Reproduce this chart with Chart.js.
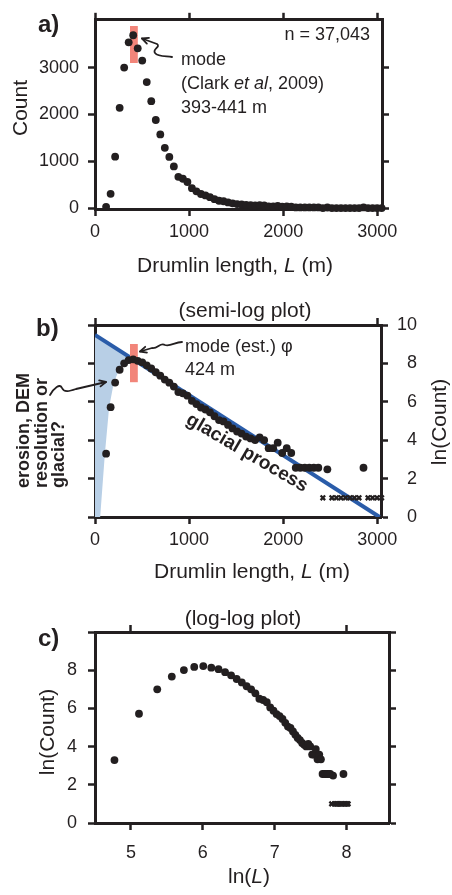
<!DOCTYPE html>
<html>
<head>
<meta charset="utf-8">
<script src="https://cdn.jsdelivr.net/npm/chart.js@4.4.1/dist/chart.umd.min.js"></script>
<style>
  html, body { margin: 0; padding: 0; background: #fff; }
  #page { position: relative; width: 452px; height: 895px; overflow: hidden; background: #fff; }
  canvas { position: absolute; left: 0; }
</style>
</head>
<body>
<div id="page">
  <canvas id="chartA" width="452" height="290" style="top:0px"></canvas>
  <canvas id="chartB" width="452" height="300" style="top:290px"></canvas>
  <canvas id="chartC" width="452" height="305" style="top:590px"></canvas>
</div>
<script>
// drumlin length bins (centre, m) and how many drumlins fall in each
const binLengths = [118, 166, 214, 262, 310, 358, 406, 454, 502, 550, 598, 646, 694, 742, 790, 838, 886, 934, 982, 1030,
  1078, 1126, 1174, 1222, 1270, 1318, 1366, 1414, 1462, 1510, 1558, 1606, 1654, 1702, 1750, 1798, 1846, 1894, 1942, 1990,
  2038, 2086, 2134, 2182, 2230, 2278, 2326, 2374, 2470, 2854];
const binCounts = [27, 305, 1097, 2140, 3000, 3540, 3690, 3410, 3150, 2690, 2283, 1880, 1573, 1287, 1093, 890, 668, 626, 556, 424,
  358, 300, 270, 233, 190, 156, 145, 121, 101, 86, 77, 66, 60, 55, 63, 55, 36, 36, 48, 28,
  36, 28, 13, 13, 13, 13, 13, 13, 12, 13];

// sparse bins, shown as crosses on the log plots
const emptyBinLengths = [2422, 2518, 2566, 2614, 2662, 2710, 2758, 2806, 2902, 2950, 2998, 3046];
const emptyLevel = 1;

// mode bands (red bars)
const modeBandLengths = [372, 455, 455, 372];
const modeBandCounts = [3100, 3100, 3890, 3890];
const modeBandLnCounts = [7.02, 7.02, 9.01, 9.01];

// "glacial process" exponential fit and the shaded short-drumlin region
const fitLengths = [0, 3025];
const fitLnCounts = [9.48, 0];
const shadeLengths = [0, 354, 250, 200, 150, 105, 55, 0];
const shadeLnCounts = [9.48, 8.37, 7.6, 7.0, 5.7, 3.3, 0, 0];

// ticks
const lengthTicks = [0, 1000, 2000, 3000];
const lengthLabels = ['0', '1000', '2000', '3000'];
const lengthEndTicks = [0, 3000];
const countTicks = [0, 1000, 2000, 3000];
const countLabels = ['0', '1000', '2000', '3000'];
const lnCountTicks = [0, 2, 4, 6, 8, 10];
const lnCountLabels = ['0', '2', '4', '6', '8', '10'];
const lnCountLabelsC = ['0', '2', '4', '6', '8', ''];
const lnLengthTicks = [5, 6, 7, 8];
const lnLengthLabels = ['5', '6', '7', '8'];
const lnLengthEndTicks = [5, 8];

const INK = '#231f20';
const RED = '#f2857a';
const BLUE = '#2a5ca9';
const SHADE = '#b8cfe6';
const FONT = "'Liberation Sans', Arial, Helvetica, sans-serif";

function font(size, style) {
  return (style ? style + ' ' : '') + size + 'px ' + FONT;
}

const pts = (xs, ys) => xs.map((x, i) => ({ x, y: ys[i] }));

function frameAxis(position, range, tickValues, size, tickLabels, tickOpts) {
  const horizontal = position === 'top' || position === 'bottom';
  return {
    type: 'linear',
    position,
    min: range[0],
    max: range[1],
    border: { display: true, color: INK, width: 3 },
    grid: { drawOnChartArea: false, drawTicks: true, tickLength: 7, tickWidth: 2.5, tickColor: INK },
    ticks: Object.assign({
      display: !!tickLabels,
      color: INK,
      font: { family: FONT, size: 18 },
      maxRotation: 0,
      autoSkip: false,
      callback: (v, i) => tickLabels ? tickLabels[i] : ''
    }, tickOpts || {}),
    afterBuildTicks: s => { s.ticks = tickValues.map(v => ({ value: v })); },
    afterFit: s => { if (horizontal) s.height = size; else s.width = size; }
  };
}

// text with mixed fonts, drawn run after run
function drawRuns(ctx, runs, x, y, align) {
  let total = 0;
  runs.forEach(([t, f]) => { ctx.font = f; total += ctx.measureText(t).width; });
  let cx = align === 'center' ? x - total / 2 : align === 'right' ? x - total : x;
  ctx.textAlign = 'left';
  runs.forEach(([t, f]) => {
    ctx.font = f;
    ctx.fillText(t, cx, y);
    cx += ctx.measureText(t).width;
  });
}

function drawRotated(ctx, runs, x, y, angle, align, baseline) {
  ctx.save();
  ctx.translate(x, y);
  ctx.rotate(angle);
  ctx.textBaseline = baseline || 'alphabetic';
  drawRuns(ctx, runs, 0, 0, align);
  ctx.restore();
}

function arrowHead(ctx, x0, y0, x1, y1) {
  const a = Math.atan2(y1 - y0, x1 - x0);
  const len = 7, spread = 0.45;
  ctx.beginPath();
  ctx.moveTo(x1 - len * Math.cos(a - spread), y1 - len * Math.sin(a - spread));
  ctx.lineTo(x1, y1);
  ctx.lineTo(x1 - len * Math.cos(a + spread), y1 - len * Math.sin(a + spread));
  ctx.stroke();
}

function notes(id, top, draw) {
  return {
    id,
    afterDraw(chart) {
      const ctx = chart.ctx;
      ctx.save();
      ctx.translate(0, -top);
      ctx.fillStyle = INK;
      ctx.strokeStyle = INK;
      ctx.lineWidth = 1.8;
      ctx.lineCap = 'round';
      ctx.lineJoin = 'round';
      ctx.textBaseline = 'alphabetic';
      draw(ctx, chart);
      ctx.restore();
    }
  };
}

const f18 = font(18);
const f21 = font(21);
const baseOptions = (padding, scales) => ({
  responsive: false,
  animation: false,
  events: [],
  layout: { padding },
  plugins: { legend: { display: false }, tooltip: { enabled: false } },
  scales
});

const dotStyle = {
  xAxisID: 'x', yAxisID: 'y',
  pointRadius: 3.9, pointBackgroundColor: INK, pointBorderWidth: 0,
  showLine: false, clip: false, order: 0
};
const crossStyle = {
  xAxisID: 'x', yAxisID: 'y',
  pointStyle: 'crossRot', pointRadius: 3.2, pointBorderColor: INK, pointBorderWidth: 2.3,
  showLine: false, clip: false, order: 1
};
const shapeStyle = color => ({
  type: 'line', xAxisID: 'x', yAxisID: 'y',
  fill: 'shape', backgroundColor: color, borderColor: 'rgba(0,0,0,0)', borderWidth: 1,
  pointRadius: 0, tension: 0
});

// ---------- a) linear histogram ----------
new Chart(document.getElementById('chartA'), {
  type: 'scatter',
  data: {
    datasets: [
      Object.assign({ data: pts(binLengths, binCounts).concat(emptyBinLengths.map(x => ({ x, y: 0 }))) }, dotStyle),
      Object.assign({ data: pts(modeBandLengths, modeBandCounts), order: 3 }, shapeStyle(RED))
    ]
  },
  options: baseOptions({ left: 0, right: 0, top: 0, bottom: 0 }, {
    x: frameAxis('bottom', [0, 3050], lengthTicks, 81, lengthLabels, { padding: 5 }),
    xTop: frameAxis('top', [0, 3050], lengthTicks, 17, null),
    y: frameAxis('left', [-20, 4020], countTicks, 95, countLabels, { padding: 9 }),
    yR: frameAxis('right', [-20, 4020], countTicks, 70, null)
  }),
  plugins: [notes('notesA', 0, ctx => {
    drawRuns(ctx, [['a)', font(24, 'bold')]], 38, 32, 'left');
    drawRuns(ctx, [['n = 37,043', f18]], 370, 40, 'right');
    drawRuns(ctx, [['mode', f18]], 181, 65, 'left');
    drawRuns(ctx, [['(Clark ', f18], ['et al', font(18, 'italic')], [', 2009)', f18]], 181, 89, 'left');
    drawRuns(ctx, [['393-441 m', f18]], 181, 113, 'left');
    drawRotated(ctx, [['Count', f21]], 27, 108, -Math.PI / 2, 'center');
    drawRuns(ctx, [['Drumlin length, ', f21], ['L', font(21, 'italic')], [' (m)', f21]], 235, 272, 'center');
    // squiggly pointer to the mode
    ctx.beginPath();
    ctx.moveTo(172, 57);
    ctx.bezierCurveTo(166, 56, 158, 57, 155, 53);
    ctx.bezierCurveTo(152, 49, 161, 47, 157, 44);
    ctx.lineTo(142, 38.5);
    ctx.stroke();
    arrowHead(ctx, 157, 44, 142, 38.5);
  })]
});

// ---------- b) semi-log ----------
new Chart(document.getElementById('chartB'), {
  type: 'scatter',
  data: {
    datasets: [
      Object.assign({ data: pts(binLengths, binCounts.map(c => Math.log(c))) }, dotStyle),
      Object.assign({ data: emptyBinLengths.map(x => ({ x, y: emptyLevel })) }, crossStyle),
      Object.assign({ data: pts(modeBandLengths, modeBandLnCounts), order: 2 }, shapeStyle(RED)),
      {
        type: 'line', xAxisID: 'x', yAxisID: 'y', order: 3,
        data: pts(fitLengths, fitLnCounts),
        borderColor: BLUE, borderWidth: 4, pointRadius: 0, fill: false, tension: 0
      },
      Object.assign({ data: pts(shadeLengths, shadeLnCounts), order: 4 }, shapeStyle(SHADE))
    ]
  },
  options: baseOptions({ left: 0, right: 35, top: 0, bottom: 0 }, {
    x: frameAxis('bottom', [0, 3040], lengthTicks, 73, lengthLabels, { padding: 5 }),
    xTop: frameAxis('top', [0, 3040], lengthEndTicks, 35, null),
    y: frameAxis('left', [0, 10], lnCountTicks, 95, null),
    yR: frameAxis('right', [0, 10], lnCountTicks, 36, lnCountLabels, { crossAlign: 'far' })
  }),
  plugins: [notes('notesB', 290, ctx => {
    drawRuns(ctx, [['(semi-log plot)', f21]], 245, 317, 'center');
    drawRuns(ctx, [['b)', font(24, 'bold')]], 36, 336, 'left');
    drawRuns(ctx, [['mode (est.) φ', f18]], 185, 352, 'left');
    drawRuns(ctx, [['424 m', f18]], 185, 375, 'left');
    const b18 = font(18, 'bold');
    drawRotated(ctx, [['erosion, DEM', b18]], 29, 488, -Math.PI / 2, 'left');
    drawRotated(ctx, [['resolution or', b18]], 46.5, 488, -Math.PI / 2, 'left');
    drawRotated(ctx, [['glacial?', b18]], 64, 488, -Math.PI / 2, 'left');
    drawRotated(ctx, [['glacial process', font(19, 'bold')]], 247, 453, 0.53, 'center', 'middle');
    drawRotated(ctx, [['ln(Count)', f21]], 446, 422, -Math.PI / 2, 'center');
    drawRuns(ctx, [['Drumlin length, ', f21], ['L', font(21, 'italic')], [' (m)', f21]], 252, 578, 'center');
    // pointer to estimated mode
    ctx.beginPath();
    ctx.moveTo(182, 342);
    ctx.bezierCurveTo(175, 342, 170, 347, 165, 345);
    ctx.bezierCurveTo(160, 342, 158, 349, 152, 348);
    ctx.lineTo(140, 351.5);
    ctx.stroke();
    arrowHead(ctx, 152, 348, 140, 351.5);
    // pointer from the side question
    ctx.beginPath();
    ctx.moveTo(50, 395);
    ctx.bezierCurveTo(54, 388, 60, 383, 62, 388);
    ctx.bezierCurveTo(64, 393, 70, 391, 76, 389);
    ctx.lineTo(106, 382);
    ctx.stroke();
    arrowHead(ctx, 76, 389, 106, 382);
  })]
});

// ---------- c) log-log ----------
new Chart(document.getElementById('chartC'), {
  type: 'scatter',
  data: {
    datasets: [
      Object.assign({ data: binLengths.map((l, i) => ({ x: Math.log(l), y: Math.log(binCounts[i]) })) }, dotStyle),
      Object.assign({ data: emptyBinLengths.map(l => ({ x: Math.log(l), y: emptyLevel })) }, crossStyle)
    ]
  },
  options: baseOptions({ left: 0, right: 0, top: 0, bottom: 0 }, {
    x: frameAxis('bottom', [4.5, 8.59], lnLengthTicks, 72, lnLengthLabels, { padding: 12 }),
    xTop: frameAxis('top', [4.5, 8.59], lnLengthEndTicks, 42, null),
    y: frameAxis('left', [0, 10], lnCountTicks, 95, lnCountLabelsC, { padding: 11 }),
    yR: frameAxis('right', [0, 10], lnCountTicks, 63, null)
  }),
  plugins: [notes('notesC', 590, ctx => {
    drawRuns(ctx, [['(log-log plot)', f21]], 243, 625, 'center');
    drawRuns(ctx, [['c)', font(24, 'bold')]], 38, 646, 'left');
    drawRotated(ctx, [['ln(Count)', f21]], 54, 732, -Math.PI / 2, 'center');
    drawRuns(ctx, [['ln(', f21], ['L', font(21, 'italic')], [')', f21]], 249, 883, 'center');
  })]
});
</script>
</body>
</html>
